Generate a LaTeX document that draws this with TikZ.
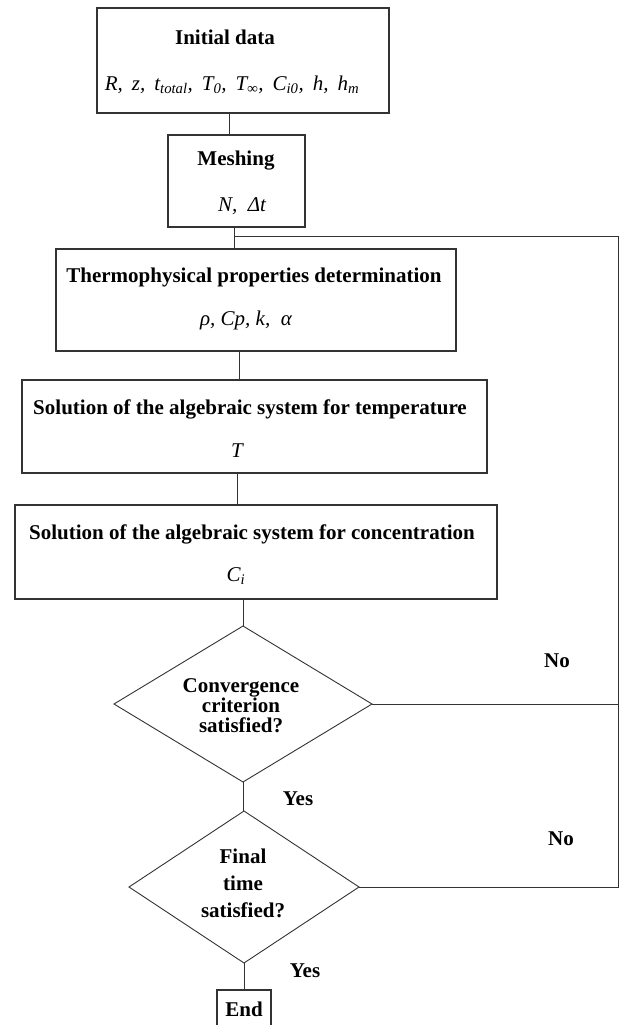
\documentclass[tikz,border=0pt]{standalone}
\usepackage{fontspec}
\setmainfont{Liberation Serif}
\usetikzlibrary{shapes.geometric}
\begin{document}
\begin{tikzpicture}[x=1pt,y=-1pt]
\tikzset{
  box/.style={draw=black!80,line width=1.1pt,rectangle,inner sep=0pt,outer sep=0pt},
  dia/.style={draw=black!80,line width=0.9pt,diamond,inner sep=0pt,outer sep=0pt},
  ttl/.style={font=\fontsize{21}{21}\selectfont\bfseries,inner sep=0pt,anchor=base},
  prm/.style={font=\fontsize{21}{21}\selectfont\itshape,inner sep=0pt,anchor=base},
  dtxt/.style={font=\fontsize{21}{20}\selectfont\bfseries,inner sep=0pt,align=center,anchor=north},
  conn/.style={draw=black!80,line width=0.9pt},
}
\clip (0,0) rectangle (619,1025);
\fill[white] (0,0) rectangle (619,1025);

% boxes
\node[box,minimum width=292pt,minimum height=105pt] (b1) at (243,60.5) {};
\node[box,minimum width=137pt,minimum height=92pt] (b2) at (236.5,181) {};
\node[box,minimum width=400pt,minimum height=102pt] (b3) at (256,300) {};
\node[box,minimum width=465pt,minimum height=93pt] (b4) at (254.5,426.5) {};
\node[box,minimum width=482pt,minimum height=94pt] (b5) at (256,552) {};
\node[dia,minimum width=258pt,minimum height=156pt] (d1) at (243,704) {};
\node[dia,minimum width=230pt,minimum height=152pt] (d2) at (244,887) {};
\node[box,minimum width=54pt,minimum height=50pt] (e) at (244,1015) {};

% texts
\node[ttl] (t1) at (225,45) {Initial data};
\node[prm] (p1) at (232,90) {\spaceskip=9pt R, z, t\textsubscript{total}, T\textsubscript{0}, T\textsubscript{∞}, C\textsubscript{i0}, h, h\textsubscript{m}};
\node[ttl] (t2) at (236,165) {Meshing};
\node[prm] (p2) at (242,211) {N,\ \ Δt};
\node[ttl] (t3) at (254,282) {Thermophysical properties determination};
\node[prm] (p3) at (246,325) {ρ, Cp, k,\ \ α};
\node[ttl] (t4) at (250,414) {Solution of the algebraic system for temperature};
\node[prm] (p4) at (237,457) {T};
\node[ttl] (t5) at (252,539) {Solution of the algebraic system for concentration};
\node[prm] (p5) at (236,581) {C\textsubscript{i}};
\node[dtxt] (dt1) at (241,678) {Convergence\\criterion\\satisfied?};
\node[dtxt,font=\fontsize{21}{27}\selectfont\bfseries] (dt2) at (243,849) {Final\\time\\satisfied?};
\node[ttl] (te) at (244,1016) {End};
\node[ttl] (no1) at (557,667) {No};
\node[ttl] (no2) at (561,845) {No};
\node[ttl] (yes1) at (298,805) {Yes};
\node[ttl] (yes2) at (305,977) {Yes};

% connectors
\coordinate (j) at (234,236);
\coordinate (rt) at (618,236);
\coordinate (r1) at (618,704);
\coordinate (r2) at (618,887);
\draw[conn] (229,113) -- (229,135);
\draw[conn] (b2.south -| j) -- (b3.north -| j);
\draw[conn] (239,351) -- (239,380);
\draw[conn] (237,473) -- (237,505);
\draw[conn] (b5.south -| d1.north) -- (d1.north);
\draw[conn] (d1.south) -- (d1.south |- d2.north);
\draw[conn] (d2.south) -- (e.north -| d2.south);
\draw[conn] (d1.east) -- (r1);
\draw[conn] (d2.east) -- (r2) -- (rt) -- (j);
\end{tikzpicture}
\end{document}
